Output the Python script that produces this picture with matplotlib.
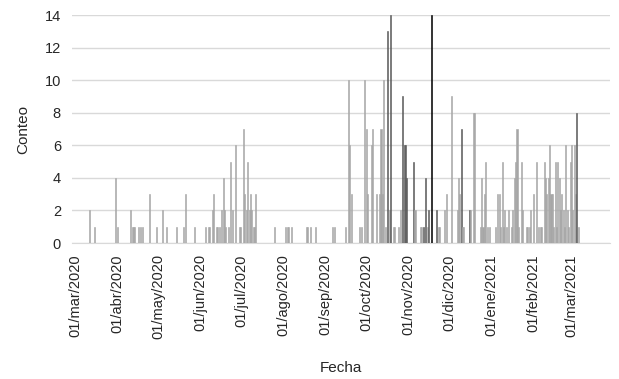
import matplotlib
matplotlib.use("Agg")
import matplotlib.pyplot as plt
import pandas as pd
import numpy as np

plt.rcParams['font.family'] = ['Liberation Sans', 'DejaVu Sans']

# day offsets from 01/mar/2020 and daily counts
days = [11, 14, 30, 31, 41, 42, 43, 44, 47, 48, 50, 55, 60, 64, 67, 75, 80, 81, 88,
        96, 98, 99, 101, 102, 104, 105, 106, 108, 109, 110, 111, 113, 114, 116, 118,
        121, 122, 124, 125, 126, 127, 128, 129, 130, 131, 132, 133,
        147, 155, 156, 157, 159, 170, 171, 173, 177,
        189, 191, 199, 201, 202, 203, 209, 211, 213, 214, 215, 218, 219, 222, 224,
        225, 226, 227, 228, 230, 231, 232, 234, 235, 238, 239, 241, 242, 243, 244,
        249, 250, 254, 255, 256, 258, 259, 260, 262,
        266, 267, 268, 272, 273, 277, 281, 282, 283, 284, 285, 286, 290, 291, 293,
        294, 298, 299, 300, 301, 302, 303, 305, 309, 311, 312, 313, 314, 315, 316,
        317, 319, 321, 322, 323, 324, 325, 326, 328, 329, 332, 333, 334, 335, 337,
        339, 341, 342, 343, 345, 346, 347, 348, 349, 350, 351, 352, 353, 354, 355,
        356, 357, 358, 359, 360, 361, 362, 363, 364, 365, 366, 367, 368, 369, 370]
counts = [2, 1, 4, 1, 2, 1, 1, 1, 1, 1, 1, 3, 1, 2, 1, 1, 1, 3, 1,
          1, 1, 1, 2, 3, 1, 1, 1, 2, 4, 2, 1, 1, 5, 2, 6,
          1, 1, 7, 3, 2, 5, 2, 3, 2, 1, 1, 3,
          1, 1, 1, 1, 1, 1, 1, 1, 1,
          1, 1, 1, 10, 6, 3, 1, 1, 10, 7, 3, 6, 7, 3, 3,
          7, 3, 10, 1, 13, 2, 14, 1, 1, 1, 2, 9, 6, 6, 4,
          5, 2, 1, 1, 1, 4, 1, 2, 14,
          2, 1, 1, 2, 3, 9, 2, 4, 3, 7, 1, 1, 2, 2, 8,
          8, 1, 4, 1, 3, 5, 1, 1, 1, 3, 3, 1, 5, 1, 2,
          1, 2, 1, 2, 4, 5, 7, 1, 5, 2, 1, 1, 1, 2, 3,
          5, 1, 1, 1, 5, 4, 3, 4, 6, 3, 3, 1, 5, 1, 5,
          4, 2, 3, 2, 1, 6, 2, 1, 5, 6, 2, 6, 3, 8, 1]

month_offsets = [0, 31, 61, 92, 122, 153, 184, 214, 245, 275, 306, 337, 365]
month_labels = ["01/mar/2020", "01/abr/2020", "01/may/2020", "01/jun/2020",
                "01/jul/2020", "01/ago/2020", "01/sep/2020", "01/oct/2020",
                "01/nov/2020", "01/dic/2020", "01/ene/2021", "01/feb/2021",
                "01/mar/2021"]

dark_days = {230, 232, 241, 242, 243, 244, 249, 256, 258, 260, 266, 284, 290, 369}
colors = []
for d in days:
    if d == 262:
        colors.append("#000000")
    elif d in dark_days:
        colors.append("#5a5a5a")
    else:
        colors.append("#a6a6a6")

fig = plt.figure(figsize=(6.19, 3.79), dpi=100)
ax = fig.add_axes([0.1163, 0.3588, 0.8692, 0.6016])

ax.bar(days, counts, width=0.75, color=colors, edgecolor=colors, linewidth=0.4,
       zorder=3)

ax.set_ylim(0, 14)
ax.set_yticks(range(0, 15, 2))
ax.set_xlim(-2.2, 393.4)
ax.set_xticks(month_offsets)
ax.set_xticklabels(month_labels, rotation=90, fontsize=10.5, color="#262626")
ax.tick_params(axis='y', labelsize=10.5, colors="#262626", length=0, pad=8)
ax.tick_params(axis='x', length=0, pad=8)
ax.grid(axis='y', color="#d9d9d9", linewidth=1, zorder=0)
for s in ["left", "right", "top"]:
    ax.spines[s].set_visible(False)
ax.spines["bottom"].set_color("#d9d9d9")
ax.set_xlabel("Fecha", fontsize=11, color="#262626", labelpad=16)
ax.set_ylabel("Conteo", fontsize=11, color="#262626", labelpad=10)

fig.savefig("out.png", dpi=100)
